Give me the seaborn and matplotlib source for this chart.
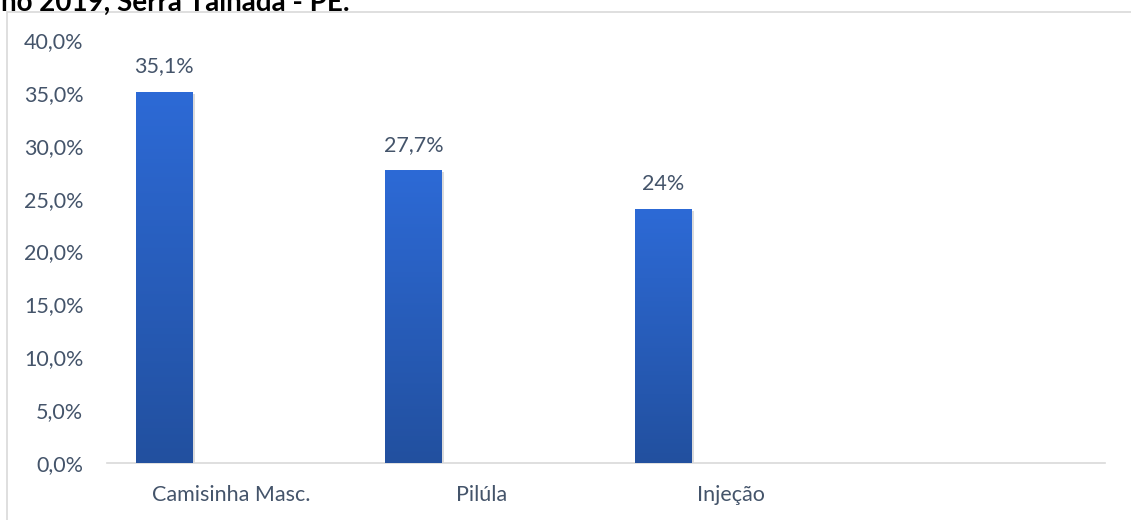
import numpy as np
import pandas as pd
import seaborn as sns
import matplotlib.pyplot as plt
from matplotlib import patheffects as pe
from matplotlib.colors import LinearSegmentedColormap
from matplotlib.lines import Line2D

# Data
categories = ["Camisinha Masc.", "Pilúla", "Injeção", ""]
values = [35.1, 27.7, 24.0]
value_labels = ["35,1%", "27,7%", "24%"]
y_ticks = [0, 5, 10, 15, 20, 25, 30, 35, 40]
title_text = "Métodos contraceptivos mais usados no ano 2019, Serra Talhada - PE."

TEXT = "#44546A"
FRAME = "#D9D9D9"
BAR_TOP = "#2D6AD6"
BAR_BOTTOM = "#22509F"
BAR_OFFSET = 0.27   # bars sit left of the category centre (clustered layout)
BAR_WIDTH = 0.228
FS = 15.5

sns.set_theme(style="white")
plt.rcParams["font.family"] = ["Lato", "DejaVu Sans"]

fig = plt.figure(figsize=(11.31, 5.2), dpi=100)
ax = fig.add_axes([107 / 1131, 1 - 463 / 520, (1105 - 107) / 1131, (463 - 40) / 520])

df = pd.DataFrame({"pos": np.arange(len(values)) - BAR_OFFSET, "valor": values})
sns.barplot(data=df, x="pos", y="valor", native_scale=True, width=BAR_WIDTH,
            color=BAR_BOTTOM, ax=ax, linewidth=0, zorder=2)

# vertical gradient fill for each bar, with a soft drop shadow
cmap = LinearSegmentedColormap.from_list("bar", [BAR_BOTTOM, BAR_TOP])
grad = np.linspace(0, 1, 256).reshape(-1, 1)
for patch in ax.patches:
    x0, y0 = patch.get_x(), patch.get_y()
    w, h = patch.get_width(), patch.get_height()
    patch.set_path_effects([pe.SimplePatchShadow(offset=(1.5, -1.5), shadow_rgbFace="#9a9a9a", alpha=0.35),
                            pe.Normal()])
    im = ax.imshow(grad, extent=[x0, x0 + w, y0, y0 + h], origin="lower",
                   aspect="auto", cmap=cmap, zorder=3)
    im.set_clip_path(patch)

for patch, lab in zip(ax.patches, value_labels):
    ax.annotate(lab, (patch.get_x() + patch.get_width() / 2, patch.get_height()),
                xytext=(0, 11), textcoords="offset points", ha="center", va="bottom",
                fontsize=FS, color=TEXT, zorder=4)

ax.set_xlim(-0.5, len(categories) - 0.5)
ax.set_ylim(0, 40)
ax.set_xticks(range(len(categories)))
ax.set_xticklabels(categories)
ax.set_yticks(y_ticks)
ax.set_yticklabels([f"{t:.1f}%".replace(".", ",") for t in y_ticks])
ax.tick_params(axis="both", length=0, labelsize=FS, labelcolor=TEXT)
ax.tick_params(axis="y", pad=17)
ax.tick_params(axis="x", pad=16)
ax.set_xlabel("")
ax.set_ylabel("")
for side in ["left", "right", "top"]:
    ax.spines[side].set_visible(False)
ax.spines["bottom"].set_color(FRAME)
ax.spines["bottom"].set_linewidth(1.2)
ax.grid(False)

# chart frame
fig.add_artist(Line2D([7 / 1131, 7 / 1131], [0, 1 - 12 / 520], color=FRAME, lw=1.2))
fig.add_artist(Line2D([7 / 1131, 1], [1 - 12 / 520, 1 - 12 / 520], color=FRAME, lw=1.2))

# caption above the frame
fig.text(350 / 1131, 1 - 10.5 / 520, title_text, ha="right", va="baseline",
         fontsize=20, fontweight="bold", color="black")

fig.savefig("out.png", dpi=100, facecolor="white")
